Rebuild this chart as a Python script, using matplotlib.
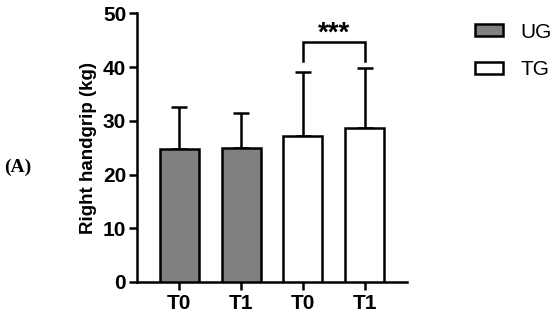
import matplotlib
matplotlib.use("Agg")
import matplotlib.pyplot as plt
from matplotlib.patches import Patch

groups = ["UG", "UG", "TG", "TG"]
tick_labels = ["T0", "T1", "T0", "T1"]
means = [24.8, 25.0, 27.2, 28.6]
sds = [7.7, 6.5, 11.9, 11.3]
group_colors = {"UG": "#808080", "TG": "white"}

plt.rcParams["font.family"] = ["Liberation Sans", "DejaVu Sans"]

fig = plt.figure(figsize=(5.5, 3.2), dpi=100)
ax = fig.add_axes([0.2496, 0.119, 0.4899, 0.839])

lw = 1.8
x = list(range(len(means)))
colors = [group_colors[g] for g in groups]
ax.bar(x, means, width=0.63, color=colors, edgecolor="black", linewidth=lw, zorder=3)
ax.errorbar(x, means, yerr=[[0] * len(sds), sds], fmt="none", ecolor="black",
            elinewidth=lw, capsize=5.5, capthick=lw, zorder=2)

# significance bracket between TG T0 and TG T1
ax.plot([2, 2, 3, 3], [41.1, 44.6, 44.6, 41.1], color="black", lw=lw,
        solid_joinstyle="miter", clip_on=False)
ax.text(2.5, 43.8, "***", ha="center", va="bottom", fontsize=20,
        fontweight="bold")

ax.set_xlim(-0.68, 3.68)
ax.set_ylim(0, 50)
ax.set_yticks([0, 10, 20, 30, 40, 50])
ax.set_xticks(x)
ax.set_xticklabels(tick_labels)
for s in ["top", "right"]:
    ax.spines[s].set_visible(False)
for s in ["left", "bottom"]:
    ax.spines[s].set_linewidth(lw)
ax.tick_params(axis="both", width=lw, length=6, labelsize=15)
ax.tick_params(axis="x", pad=3)
ax.tick_params(axis="y", pad=2)
for lab in ax.get_xticklabels() + ax.get_yticklabels():
    lab.set_fontweight("bold")
ax.set_ylabel("Right handgrip (kg)", fontsize=13.5, fontweight="bold", labelpad=4)

handles = [Patch(facecolor=group_colors[g], edgecolor="black", linewidth=lw)
           for g in ["UG", "TG"]]
fig.legend(handles, ["UG", "TG"], loc="upper left",
           bbox_to_anchor=(0.849, 0.955), frameon=False, fontsize=15,
           handlelength=1.35, handleheight=0.53, handletextpad=0.8,
           labelspacing=0.9, borderaxespad=0)

fig.text(0.008, 0.478, "(A)", family=["Liberation Serif", "DejaVu Serif"],
         fontsize=14, fontweight="bold", va="center", ha="left")

fig.savefig("out.png", dpi=100)
